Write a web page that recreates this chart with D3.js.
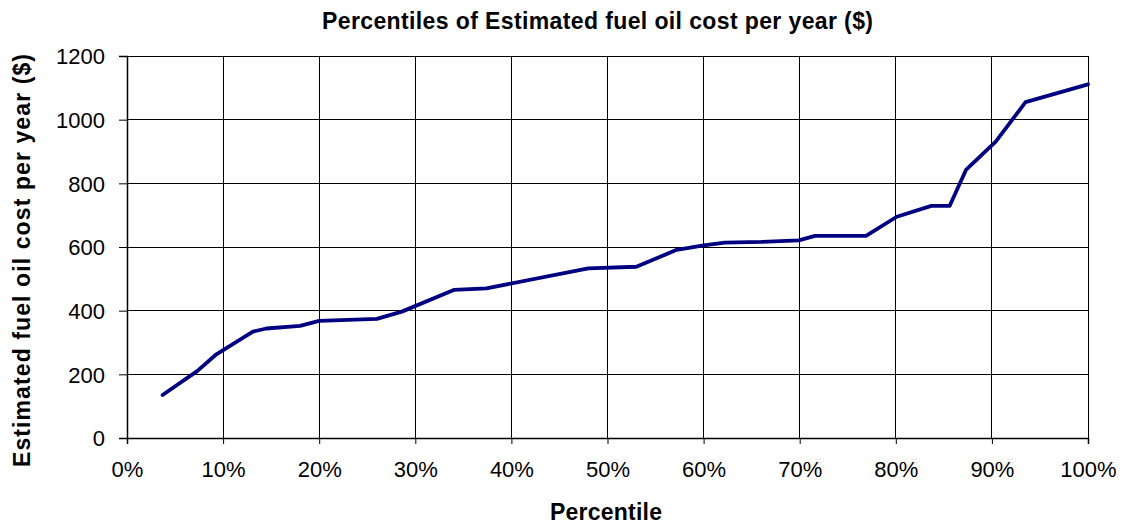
<!DOCTYPE html>
<html><head><meta charset="utf-8">
<script src="https://cdn.jsdelivr.net/npm/d3@7"></script>
<style>body{margin:0;background:#fff}svg{display:block;font-family:"Liberation Sans",Arial,sans-serif}</style>
</head><body><svg id="c" width="1122" height="525"></svg>
<script>
const percentiles = [3.7, 7.3, 9.3, 13.1, 14.5, 18, 20, 26, 28.6, 34, 37.4, 48, 53, 57.2, 60, 62.2, 66, 69.9, 71.6, 76.9, 80.1, 83.7, 85.6, 87.3, 90.4, 93.5, 100];
const costs = [135, 210, 263, 334, 344, 352, 368, 374, 397, 465, 470, 533, 538, 591, 605, 614, 616, 621, 635, 635, 695, 729, 729, 842, 931, 1055, 1111];
const xTicks = [0,10,20,30,40,50,60,70,80,90,100];
const yTicks = [0,200,400,600,800,1000,1200];
const data = percentiles.map((p,i)=>({p, v:costs[i]}));

const svg = d3.select("#c");
const L=127, R=1088, T=56, B=438;
const x = d3.scaleLinear().domain([0,100]).range([L,R]);
const y = d3.scaleLinear().domain([0,1200]).range([B,T]);

// grid
svg.append("g").selectAll("line").data(yTicks).join("line")
  .attr("x1",L).attr("x2",R).attr("y1",d=>y(d)).attr("y2",d=>y(d))
  .attr("stroke","#000").attr("stroke-width",1).attr("shape-rendering","crispEdges");
svg.append("g").selectAll("line").data(xTicks).join("line")
  .attr("x1",d=>x(d)).attr("x2",d=>x(d)).attr("y1",T).attr("y2",B)
  .attr("stroke","#000").attr("stroke-width",1).attr("shape-rendering","crispEdges");

// axes
const ya = svg.append("g").attr("transform",`translate(${L},0)`)
  .call(d3.axisLeft(y).tickValues(yTicks).tickSize(8).tickPadding(14).tickFormat(d3.format("d")));
const xa = svg.append("g").attr("transform",`translate(0,${B})`)
  .call(d3.axisBottom(x).tickValues(xTicks).tickSize(6).tickPadding(20).tickFormat(d=>d+"%"));
[ya,xa].forEach(a=>{
  a.select(".domain").attr("stroke","#000").attr("stroke-width",1.5);
  a.selectAll(".tick line").attr("stroke","#000");
  a.selectAll("text").attr("font-size",22).attr("fill","#000").attr("font-family","Liberation Sans, Arial, sans-serif");
});
ya.selectAll("text").attr("dy","0.36em");
xa.selectAll("text").attr("dy","0").attr("y",39);

// line
svg.append("path").datum(data)
  .attr("d", d3.line().x(d=>x(d.p)).y(d=>y(d.v)))
  .attr("fill","none").attr("stroke","#000080").attr("stroke-width",3.8)
  .attr("stroke-linejoin","round").attr("stroke-linecap","round");

// titles
svg.append("text").attr("x",597.5).attr("y",28.5).attr("text-anchor","middle")
  .attr("font-size",23).attr("font-weight","bold").attr("textLength",551).attr("lengthAdjust","spacing")
  .text("Percentiles of Estimated fuel oil cost per year ($)");
svg.append("text").attr("x",606).attr("y",519.5).attr("text-anchor","middle")
  .attr("font-size",23).attr("font-weight","bold").attr("textLength",112).attr("lengthAdjust","spacing")
  .text("Percentile");
svg.append("text").attr("transform","translate(30,260.5) rotate(-90)").attr("text-anchor","middle")
  .attr("font-size",23).attr("font-weight","bold").attr("textLength",413).attr("lengthAdjust","spacing")
  .text("Estimated fuel oil cost per year ($)");
</script></body></html>
